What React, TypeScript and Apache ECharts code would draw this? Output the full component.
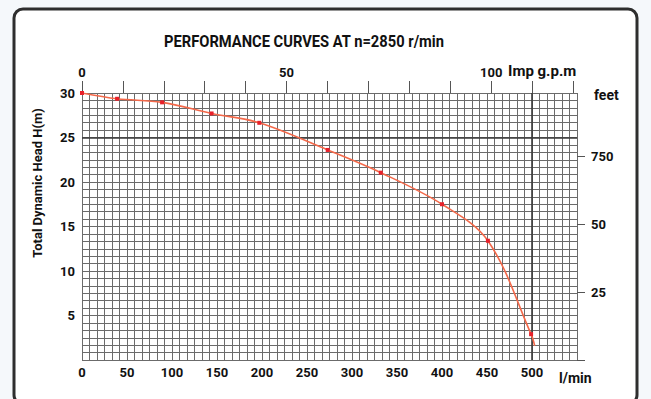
import React, { useEffect, useRef } from "react";
import * as echarts from "echarts";

const flowLpm = [0, 39, 89, 144, 197, 273, 332, 400, 451, 499, 503];
const headM = [30, 29.35, 28.95, 27.7, 26.65, 23.6, 21.05, 17.5, 13.4, 2.9, 1.6];
const markedPoints = [true, true, true, true, true, true, true, true, true, true, false];
const impGpmStep = 10;
const impGpmLabels = [0, 50, 100];
const feetStep = 25;
const feetTicks = [25, 50, 75];
const feetTickLabels = ["25", "50", "750"];
const refHead = 25;
const refFlow = 500;

const FONT = "Roboto, 'Noto Sans', sans-serif";
const GRID = "#6b6b6b";
const LPM_PER_GPM = 4.54609;
const M_PER_FT = 0.3048;
const X_MAX = 550;
const Y_MAX = 30;

const labelStyle = {
  color: "#111",
  fontSize: 13,
  fontWeight: "bold",
  fontFamily: FONT,
};

export default function App() {
  const ref = useRef<HTMLDivElement>(null);
  useEffect(() => {
    if (!ref.current) return;
    const chart = echarts.init(ref.current, null, { renderer: "svg" });
    const data = flowLpm.map((q, i) => ({
      value: [q, headM[i]],
      symbol: markedPoints[i] ? "rect" : "none",
    }));
    chart.setOption({
      animation: false,
      backgroundColor: "transparent",
      textStyle: { fontFamily: FONT },
      grid: { left: 82, right: 74, top: 93, bottom: 39, containLabel: false },
      xAxis: [
        {
          type: "value",
          position: "bottom",
          min: 0,
          max: X_MAX,
          interval: 50,
          axisLine: { show: false, onZero: false },
          axisTick: { show: false },
          minorTick: { show: false, splitNumber: 6 },
          splitLine: { show: true, lineStyle: { color: GRID, width: 1 } },
          minorSplitLine: { show: true, lineStyle: { color: GRID, width: 1 } },
          axisLabel: {
            ...labelStyle,
            margin: 6,
            formatter: (v: number) => (v > 500 ? "" : String(v)),
          },
        },
        {
          type: "value",
          position: "top",
          min: 0,
          max: X_MAX / LPM_PER_GPM,
          interval: impGpmStep,
          axisLine: { show: false, onZero: false },
          splitLine: { show: false },
          axisTick: {
            show: true,
            inside: false,
            length: 12,
            lineStyle: { color: "#555", width: 1 },
          },
          axisLabel: {
            ...labelStyle,
            margin: 14,
            showMaxLabel: false,
            formatter: (v: number) => (impGpmLabels.includes(v) ? String(v) : ""),
          },
        },
      ],
      yAxis: [
        {
          type: "value",
          position: "left",
          min: 0,
          max: Y_MAX,
          interval: 5,
          axisLine: { show: false, onZero: false },
          axisTick: { show: false },
          minorTick: { show: false, splitNumber: 6 },
          splitLine: { show: true, lineStyle: { color: GRID, width: 1 } },
          minorSplitLine: { show: true, lineStyle: { color: GRID, width: 1 } },
          axisLabel: {
            ...labelStyle,
            margin: 7,
            formatter: (v: number) => (v === 0 ? "" : String(v)),
          },
        },
        {
          type: "value",
          position: "right",
          min: 0,
          max: Y_MAX / M_PER_FT,
          interval: feetStep,
          axisLine: { show: false, onZero: false },
          splitLine: { show: false },
          axisTick: {
            show: true,
            inside: false,
            length: 8,
            lineStyle: { color: "#555", width: 1 },
          },
          axisLabel: {
            ...labelStyle,
            margin: 14,
            showMaxLabel: false,
            formatter: (v: number) => {
              const i = feetTicks.indexOf(v);
              return i >= 0 ? feetTickLabels[i] : "";
            },
          },
        },
      ],
      series: [
        {
          type: "line",
          xAxisIndex: 0,
          yAxisIndex: 0,
          data,
          smooth: 0.35,
          symbolSize: 4,
          itemStyle: { color: "#e8202a" },
          lineStyle: { color: "#f4694a", width: 1.6 },
          markLine: {
            silent: true,
            symbol: "none",
            label: { show: false },
            lineStyle: { color: "#3a3a3a", width: 1.6, type: "solid" },
            data: [{ yAxis: refHead }, { xAxis: refFlow }],
          },
          z: 5,
        },
      ],
      graphic: [
        {
          type: "rect",
          shape: { x: 14, y: 9, width: 623, height: 395, r: 9 },
          style: { fill: "#ffffff", stroke: "#2e2e2e", lineWidth: 3 },
          z: -10,
        },
        {
          type: "text",
          x: 304,
          y: 42,
          scaleX: 0.92,
          style: {
            text: "PERFORMANCE CURVES AT n=2850 r/min",
            fontFamily: FONT,
            fontWeight: "bold",
            fontSize: 16,
            fill: "#111",
            align: "center",
            verticalAlign: "middle",
          },
        },
        {
          type: "text",
          x: 508,
          y: 71,
          style: {
            text: "Imp g.p.m",
            fontFamily: FONT,
            fontWeight: "bold",
            fontSize: 15,
            fill: "#111",
            align: "left",
            verticalAlign: "middle",
          },
        },
        {
          type: "text",
          x: 594,
          y: 95,
          style: {
            text: "feet",
            fontFamily: FONT,
            fontWeight: "bold",
            fontSize: 14,
            fill: "#111",
            align: "left",
            verticalAlign: "middle",
          },
        },
        {
          type: "text",
          x: 559,
          y: 378,
          style: {
            text: "l/min",
            fontFamily: FONT,
            fontWeight: "bold",
            fontSize: 14,
            fill: "#111",
            align: "left",
            verticalAlign: "middle",
          },
        },
        {
          type: "text",
          x: 37,
          y: 183,
          rotation: Math.PI / 2,
          style: {
            text: "Total Dynamic Head H(m)",
            fontFamily: FONT,
            fontWeight: "bold",
            fontSize: 13,
            fill: "#111",
            align: "center",
            verticalAlign: "middle",
          },
        },
      ],
    });
    return () => chart.dispose();
  }, []);
  return (
    <div
      style={{
        position: "fixed",
        left: 0,
        top: 0,
        width: 651,
        height: 399,
        background: "#f5f8fb",
      }}
    >
      <div ref={ref} style={{ width: 651, height: 399 }} />
    </div>
  );
}
